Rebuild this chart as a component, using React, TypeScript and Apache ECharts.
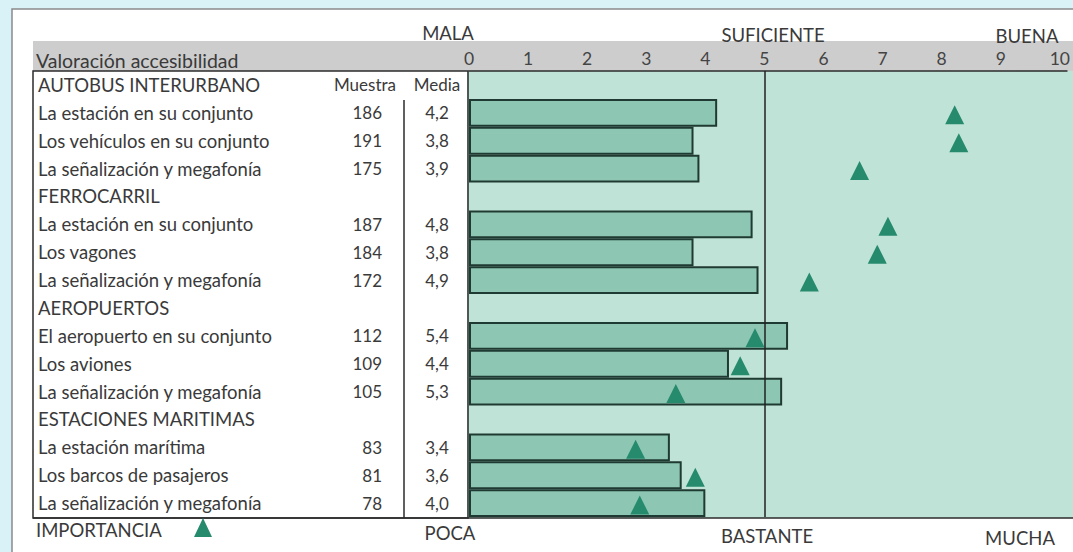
import React, { useEffect, useRef } from "react";
import * as echarts from "echarts";

const groups = ["AUTOBUS INTERURBANO", "FERROCARRIL", "AEROPUERTOS", "ESTACIONES MARITIMAS"];
const items = [
  ["La estación en su conjunto", "Los vehículos en su conjunto", "La señalización y megafonía"],
  ["La estación en su conjunto", "Los vagones", "La señalización y megafonía"],
  ["El aeropuerto en su conjunto", "Los aviones", "La señalización y megafonía"],
  ["La estación marítima", "Los barcos de pasajeros", "La señalización y megafonía"],
];
const muestra = [186, 191, 175, 187, 184, 172, 112, 109, 105, 83, 81, 78];
const media = [4.2, 3.8, 3.9, 4.8, 3.8, 4.9, 5.4, 4.4, 5.3, 3.4, 3.6, 4.0];
const importancia = [8.22, 8.29, 6.61, 7.09, 6.91, 5.76, 4.84, 4.59, 3.5, 2.82, 3.83, 2.89];
const tickValues = [0, 1, 2, 3, 4, 5, 6, 7, 8, 9, 10];
const topLabels = ["MALA", "SUFICIENTE", "BUENA"];
const bottomLabels = ["POCA", "BASTANTE", "MUCHA"];

const FONT = "Lato";
const TXT = "#3a3a3a";
const GREEN_BG = "#c0e3d7";
const BAR = "#8dc6b3";
const TRI = "#268a6d";

export default function App() {
  const ref = useRef<HTMLDivElement>(null);
  useEffect(() => {
    if (!ref.current) return;
    const chart = echarts.init(ref.current, undefined, { renderer: "svg" });

    const labels: string[] = [];
    const muestraCol: string[] = [];
    const mediaCol: string[] = [];
    const barData: (number | null)[] = [];
    const triData: [number, number][] = [];
    let k = 0;
    groups.forEach((g, gi) => {
      labels.push(g);
      muestraCol.push(gi === 0 ? "Muestra" : "");
      mediaCol.push(gi === 0 ? "Media" : "");
      barData.push(null);
      items[gi].forEach((it) => {
        const row = labels.length;
        labels.push(it);
        muestraCol.push(String(muestra[k]));
        mediaCol.push(media[k].toFixed(1).replace(".", ","));
        barData.push(media[k]);
        triData.push([importancia[k], row]);
        k++;
      });
    });
    const cats = labels.map((_, i) => String(i));

    const baseY = {
      type: "category",
      data: cats,
      inverse: true,
      gridIndex: 0,
      position: "left",
      axisLine: { show: false },
      axisTick: { show: false },
      splitLine: { show: false },
    };
    const lblStyle = { fontFamily: FONT, fontSize: 17, color: TXT, interval: 0 };
    const txt = (x: number, y: number, text: string, align: string, size = 18.5) => ({
      type: "text",
      z: 5,
      x,
      y,
      style: { text, fontFamily: FONT, fontSize: size, fontWeight: "normal", fill: TXT, align, verticalAlign: "middle" },
    });

    const option: any = {
      animation: false,
      textStyle: { fontFamily: FONT },
      grid: { left: 469, right: 0, top: 71, bottom: 35, containLabel: false },
      xAxis: {
        type: "value",
        position: "top",
        min: 0,
        max: 10.12,
        axisLine: { show: true, lineStyle: { color: "#2b2b2b", width: 1.5 } },
        axisTick: { show: false },
        splitLine: { show: false },
        axisLabel: {
          customValues: tickValues,
          margin: 4,
          fontFamily: FONT,
          fontSize: 17.5,
          color: "#444",
        },
      },
      yAxis: [
        {
          ...baseY,
          axisLabel: {
            ...lblStyle,
            fontSize: 18.5,
            margin: 431,
            align: "left",
            formatter: (v: string) => labels[+v],
          },
        },
        {
          ...baseY,
          axisLabel: {
            ...lblStyle,
            margin: 73,
            align: "right",
            formatter: (v: string) => (+v === 0 ? muestraCol[0] : `{n|${muestraCol[+v]}}`),
            rich: { n: { fontFamily: FONT, fontSize: 17, color: TXT, padding: [0, 14, 0, 0] } },
          },
        },
        {
          ...baseY,
          axisLabel: {
            ...lblStyle,
            margin: 32,
            align: "center",
            formatter: (v: string) => mediaCol[+v],
          },
        },
      ],
      graphic: [
        { type: "rect", z: -10, shape: { x: 12, y: 9, width: 1070, height: 560 }, style: { fill: "#ffffff", stroke: "#8a8a8a", lineWidth: 1.5 } },
        { type: "rect", z: -9, shape: { x: 33, y: 41, width: 1045, height: 30 }, style: { fill: "#cdcdcd" } },
        { type: "rect", z: -9, shape: { x: 467, y: 71, width: 610, height: 447 }, style: { fill: GREEN_BG } },
        txt(36, 60, "Valoración accesibilidad", "left", 19.5),
        { type: "rect", z: 5, shape: { x: 33, y: 71, width: 435, height: 447 }, style: { fill: "transparent", stroke: "#2b2b2b", lineWidth: 1.5 } },
        { type: "line", z: 5, shape: { x1: 404, y1: 100, x2: 404, y2: 518 }, style: { stroke: "#2b2b2b", lineWidth: 1.5 } },
        { type: "line", z: 5, shape: { x1: 33, y1: 518, x2: 1073, y2: 518 }, style: { stroke: "#2b2b2b", lineWidth: 1.5 } },
        txt(448, 33, topLabels[0], "center"),
        txt(773, 35, topLabels[1], "center"),
        txt(1027, 36, topLabels[2], "center"),
        txt(36, 530, "IMPORTANCIA", "left"),
        { type: "polygon", z: 5, shape: { points: [[194, 537], [212, 537], [203, 518]] }, style: { fill: TRI } },
        txt(450, 533, bottomLabels[0], "center"),
        txt(767, 536, bottomLabels[1], "center"),
        txt(1020, 538, bottomLabels[2], "center"),
      ],
      series: [
        {
          type: "bar",
          xAxisIndex: 0,
          yAxisIndex: 0,
          data: barData,
          barWidth: "100%",
          barCategoryGap: "0%",
          itemStyle: { color: BAR, borderColor: "#1f3a32", borderWidth: 2 },
          markLine: {
            silent: true,
            symbol: "none",
            label: { show: false },
            lineStyle: { color: "#222", width: 1.5, type: "solid" },
            data: [{ xAxis: 5 }],
          },
        },
        {
          type: "scatter",
          xAxisIndex: 0,
          yAxisIndex: 0,
          data: triData,
          symbol: "triangle",
          symbolSize: [19, 19],
          symbolOffset: [0, 2],
          itemStyle: { color: TRI, opacity: 1 },
          z: 4,
        },
      ],
    };
    chart.setOption(option);
    return () => chart.dispose();
  }, []);
  return (
    <div
      ref={ref}
      style={{ position: "fixed", left: 0, top: 0, width: 1073, height: 552, background: "#d9f2f8" }}
    />
  );
}
